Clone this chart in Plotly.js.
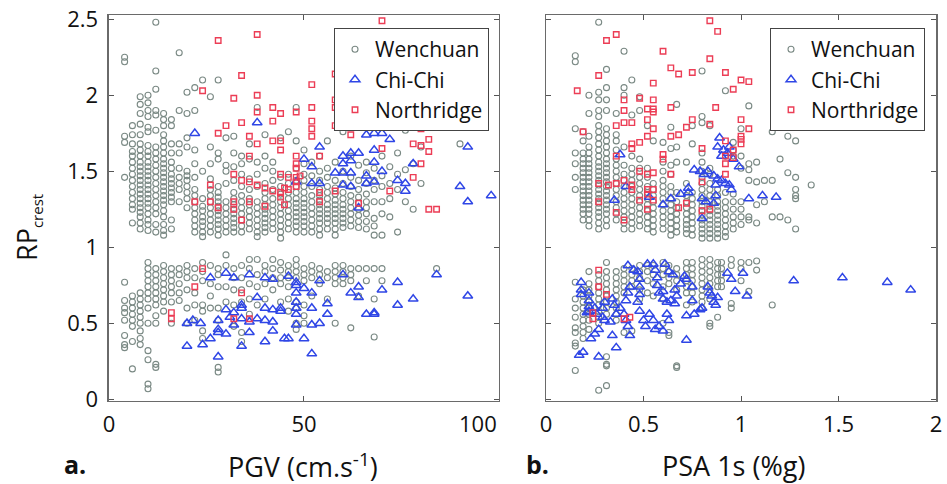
<!DOCTYPE html>
<html>
<head>
<meta charset="utf-8">
<script src="https://cdn.plot.ly/plotly-3.0.1.min.js"></script>
<style>html,body{margin:0;padding:0;background:#fff;}#chart{width:947px;height:484px;}</style>
</head>
<body>
<div id="chart"></div>
<script>
// ---------- Panel a: PGV (cm/s) vs RP_crest ----------
// Wenchuan, upper band: column PGV values and the RP values in each column
const wenchuanPGVUpper = [4, 6, 8, 10, 12, 14, 16, 18, 20, 22, 24, 26, 28, 30, 32, 34, 36, 38, 40, 42, 44, 46, 48, 50, 52, 54, 56, 58, 60, 62, 64, 66, 68, 70, 72, 74, 76, 78, 80, 90];
const wenchuanRPaUpper = [
  [2.25, 2.22, 1.73, 1.69, 1.46],
  [1.8, 1.74, 1.68, 1.63, 1.6, 1.56, 1.52, 1.48, 1.44, 1.4, 1.36, 1.32, 1.28, 1.25, 1.16],
  [1.99, 1.94, 1.88, 1.81, 1.74, 1.68, 1.64, 1.6, 1.56, 1.53, 1.5, 1.47, 1.44, 1.41, 1.38, 1.35, 1.32, 1.29, 1.26, 1.23, 1.2, 1.16, 1.12],
  [2.0, 1.95, 1.9, 1.86, 1.79, 1.76, 1.67, 1.63, 1.6, 1.56, 1.53, 1.5, 1.47, 1.44, 1.41, 1.38, 1.35, 1.32, 1.29, 1.26, 1.22, 1.18, 1.15, 1.11],
  [2.48, 2.16, 2.04, 1.9, 1.87, 1.77, 1.66, 1.62, 1.58, 1.54, 1.5, 1.46, 1.42, 1.38, 1.34, 1.3, 1.26, 1.22, 1.15, 1.1],
  [1.88, 1.84, 1.8, 1.74, 1.7, 1.66, 1.62, 1.58, 1.55, 1.52, 1.49, 1.46, 1.43, 1.4, 1.37, 1.34, 1.31, 1.28, 1.24, 1.2, 1.15, 1.11, 1.08],
  [1.84, 1.8, 1.68, 1.62, 1.56, 1.52, 1.48, 1.45, 1.42, 1.39, 1.36, 1.33, 1.3, 1.18, 1.12],
  [2.28, 1.9, 1.68, 1.62, 1.52, 1.46, 1.42, 1.38, 1.3],
  [2.02, 1.88, 1.72, 1.66, 1.5, 1.47, 1.44, 1.4, 1.36, 1.32, 1.26],
  [2.05, 1.9, 1.64, 1.55, 1.46, 1.38, 1.34, 1.3, 1.26, 1.22, 1.18, 1.14, 1.1],
  [2.1, 1.5, 1.32, 1.27, 1.24, 1.2, 1.17, 1.14, 1.1, 1.07],
  [1.99, 1.66, 1.55, 1.45, 1.38, 1.34, 1.3, 1.26, 1.22, 1.18, 1.14, 1.1],
  [2.1, 1.62, 1.58, 1.4, 1.36, 1.33, 1.3, 1.27, 1.24, 1.21, 1.18, 1.15, 1.12, 1.08],
  [1.72, 1.54, 1.5, 1.42, 1.3, 1.26, 1.22, 1.18, 1.14, 1.1],
  [1.73, 1.62, 1.53, 1.44, 1.36, 1.32, 1.28, 1.25, 1.22, 1.19, 1.16, 1.13, 1.1],
  [1.6, 1.55, 1.48, 1.4, 1.34, 1.3, 1.26, 1.22, 1.18, 1.14, 1.1],
  [1.68, 1.58, 1.45, 1.38, 1.32, 1.28, 1.24, 1.2, 1.16, 1.12],
  [1.92, 1.56, 1.48, 1.4, 1.3, 1.26, 1.22, 1.18, 1.14, 1.1, 1.07],
  [1.74, 1.6, 1.52, 1.42, 1.36, 1.32, 1.28, 1.25, 1.22, 1.19, 1.16, 1.13, 1.1],
  [1.56, 1.5, 1.44, 1.38, 1.32, 1.28, 1.24, 1.2, 1.16, 1.12],
  [1.72, 1.46, 1.4, 1.35, 1.3, 1.26, 1.22, 1.18, 1.14, 1.1, 1.06],
  [1.76, 1.48, 1.42, 1.36, 1.32, 1.28, 1.24, 1.2, 1.16, 1.12],
  [1.92, 1.7, 1.52, 1.44, 1.4, 1.36, 1.32, 1.29, 1.26, 1.23, 1.2, 1.17, 1.14, 1.1],
  [1.64, 1.55, 1.48, 1.44, 1.4, 1.36, 1.32, 1.29, 1.26, 1.23, 1.2, 1.17, 1.14, 1.1],
  [1.56, 1.47, 1.4, 1.34, 1.3, 1.26, 1.22, 1.18, 1.14, 1.1],
  [1.6, 1.5, 1.44, 1.38, 1.34, 1.31, 1.28, 1.25, 1.22, 1.19, 1.16, 1.12, 1.08],
  [1.7, 1.52, 1.46, 1.4, 1.36, 1.32, 1.28, 1.25, 1.22, 1.19, 1.16, 1.12],
  [1.56, 1.44, 1.39, 1.35, 1.31, 1.28, 1.25, 1.22, 1.19, 1.16, 1.12, 1.08],
  [1.76, 1.5, 1.42, 1.36, 1.32, 1.28, 1.25, 1.22, 1.19, 1.16, 1.13],
  [1.6, 1.46, 1.4, 1.34, 1.3, 1.26, 1.22, 1.18, 1.14],
  [1.54, 1.44, 1.38, 1.33, 1.29, 1.25, 1.21, 1.17, 1.13],
  [1.56, 1.49, 1.42, 1.35, 1.3, 1.26, 1.22, 1.17, 1.12],
  [1.52, 1.44, 1.38, 1.3, 1.19, 1.14, 1.08],
  [1.6, 1.47, 1.4, 1.3, 1.22, 1.08],
  [1.53, 1.42, 1.32, 1.2],
  [1.62, 1.48, 1.38, 1.1],
  [1.81, 1.77, 1.51, 1.3],
  [1.55, 1.25],
  [1.66, 1.42],
  [1.68]
];
// Wenchuan, lower band
const wenchuanPGVLower = [4, 6, 8, 10, 12, 14, 16, 18, 20, 22, 24, 26, 28, 30, 32, 34, 36, 38, 40, 42, 44, 46, 48, 50, 52, 54, 56, 58, 60, 62, 64, 66, 68, 70, 84];
const wenchuanRPaLower = [
  [0.77, 0.65, 0.6, 0.57, 0.52, 0.42, 0.36, 0.34],
  [0.68, 0.64, 0.6, 0.56, 0.52, 0.48, 0.38, 0.2],
  [0.7, 0.66, 0.62, 0.58, 0.54, 0.5, 0.45, 0.4, 0.36],
  [0.9, 0.86, 0.82, 0.78, 0.74, 0.7, 0.66, 0.6, 0.5, 0.32, 0.26, 0.1, 0.07],
  [0.86, 0.82, 0.78, 0.74, 0.7, 0.66, 0.62, 0.55, 0.5, 0.23, 0.21],
  [0.88, 0.84, 0.8, 0.76, 0.72, 0.68, 0.64, 0.58],
  [0.86, 0.82, 0.78, 0.74, 0.7, 0.64, 0.5],
  [0.86, 0.82, 0.76, 0.7, 0.65],
  [0.88, 0.84, 0.8, 0.72, 0.6, 0.5],
  [0.86, 0.8, 0.7, 0.62, 0.52],
  [0.9, 0.84, 0.78, 0.62, 0.58, 0.45, 0.4],
  [0.88, 0.76, 0.68, 0.6],
  [0.86, 0.82, 0.74, 0.6, 0.52, 0.21, 0.18],
  [0.95, 0.88, 0.74, 0.64],
  [0.86, 0.8, 0.72, 0.62, 0.48],
  [0.88, 0.8, 0.72, 0.64, 0.44, 0.38],
  [0.92, 0.86, 0.76, 0.66, 0.56],
  [0.92, 0.82, 0.74, 0.62],
  [0.88, 0.84, 0.76, 0.66],
  [0.92, 0.86, 0.8, 0.72],
  [0.9, 0.85, 0.8, 0.76, 0.64],
  [0.88, 0.84, 0.8, 0.74, 0.66, 0.58],
  [0.92, 0.88, 0.84, 0.8, 0.64, 0.6, 0.5, 0.46],
  [0.86, 0.82, 0.78, 0.62, 0.55, 0.5],
  [0.88, 0.84, 0.8, 0.68],
  [0.86, 0.82, 0.76],
  [0.84, 0.8, 0.66],
  [0.88, 0.84, 0.8, 0.76, 0.5],
  [0.88, 0.84, 0.8, 0.76],
  [0.86, 0.82, 0.78, 0.47],
  [0.86, 0.68],
  [0.86, 0.78],
  [0.86, 0.66, 0.41],
  [0.86, 0.78],
  [0.86]
];
// Chi-Chi, [PGV, RP]
const chichiPGVRP = [
  [22,1.75],[38,1.82],[48,1.43],[50,1.58],[52,1.53],[52,1.42],[54,1.66],[54,1.42],[58,1.49],[60,1.6],[60,1.55],[60,1.49],[60,1.41],
  [62,1.62],[62,1.57],[62,1.49],[62,1.4],[64,1.62],[64,1.26],[66,1.74],[66,1.47],[66,1.42],[68,1.75],[68,1.64],[68,1.56],[68,1.43],
  [70,1.75],[70,1.5],[72,1.71],[74,1.44],[76,1.42],[76,1.37],[78,1.55],[92,1.66],[90,1.4],[92,1.3],[98,1.34],
  [20,0.35],[20,0.5],[21.5,0.52],[23.5,0.5],[24,0.36],[26,0.4],[26,0.8],[28,0.28],[28,0.52],[28,0.46],[28,0.44],[30,0.59],[30,0.43],
  [30,0.83],[31,0.54],[32,0.8],[32,0.57],[32,0.49],[34,0.62],[34,0.6],[34,0.53],[34,0.35],[36,0.82],[36,0.51],[36,0.44],[38,0.67],
  [38,0.53],[40,0.8],[40,0.6],[40,0.52],[40,0.38],[42,0.79],[42,0.59],[42,0.51],[42,0.45],[44,0.6],[44,0.58],[45,0.4],[46,0.81],
  [46,0.4],[48,0.77],[48,0.75],[48,0.7],[48,0.64],[48,0.6],[48,0.56],[48,0.49],[50,0.73],[50,0.4],[52,0.7],[52,0.6],[52,0.49],
  [52,0.3],[54,0.78],[54,0.5],[56,0.63],[56,0.56],[60,0.82],[62,0.7],[64,0.74],[64,0.67],[66,0.56],[68,0.56],[68,0.57],[70,0.72],
  [74,0.77],[74,0.62],[78,0.66],[84,0.82],[92,0.68]
];
// Northridge, [PGV, RP]
const northridgePGVRP = [
  [28,2.36],[38,2.4],[70,2.49],[34,2.13],[58,2.14],[24,2.03],[52,2.07],[38,2.0],[32,1.98],[58,1.97],[58,1.92],[52,1.92],[42,1.92],
  [44,1.88],[48,1.89],[38,1.89],[66,1.84],[52,1.83],[42,1.83],[34,1.82],[30,1.8],[58,1.8],[52,1.78],[78,1.8],[80,1.83],[80,1.78],
  [28,1.75],[62,1.74],[52,1.73],[36,1.73],[82,1.71],[42,1.7],[44,1.7],[38,1.68],[78,1.68],[80,1.67],[70,1.65],[44,1.64],[82,1.63],
  [48,1.6],[36,1.6],[54,1.6],[80,1.55],[48,1.55],[48,1.52],[32,1.48],[44,1.48],[48,1.46],[46,1.46],[78,1.46],[49,1.47],[34,1.44],
  [36,1.43],[48,1.43],[26,1.41],[38,1.41],[48,1.4],[40,1.39],[45,1.39],[46,1.38],[42,1.37],[58,1.37],[72,1.37],[54,1.36],[44,1.36],
  [44,1.33],[22,1.3],[26,1.3],[32,1.3],[36,1.3],[54,1.3],[64,1.29],[45,1.28],[28,1.26],[40,1.27],[32,1.25],[82,1.25],[84,1.25],[34,1.18],
  [24,0.86],[22,0.74],[16,0.57],[16,0.53],[34,0.7],[32,0.53],[36,0.53]
];

// ---------- Panel b: PSA 1s (%g) vs RP_crest ----------
const wenchuanPSAUpper = [0.15, 0.19, 0.22, 0.27, 0.31, 0.36, 0.4, 0.44, 0.48, 0.52, 0.55, 0.6, 0.64, 0.67, 0.72, 0.75, 0.8, 0.84, 0.88, 0.92, 0.96, 1.0, 1.04, 1.08, 1.12, 1.16, 1.2, 1.24, 1.28, 1.36];
const wenchuanRPbUpper = [
  [2.26, 2.22, 1.78, 1.62, 1.55, 1.46, 1.38],
  [1.76, 1.7, 1.62, 1.58, 1.55, 1.52, 1.49, 1.46, 1.43, 1.4, 1.37, 1.34, 1.31, 1.28, 1.25, 1.22, 1.18],
  [2.0, 1.88, 1.73, 1.66, 1.62, 1.58, 1.55, 1.52, 1.49, 1.46, 1.43, 1.4, 1.37, 1.34, 1.31, 1.28, 1.25, 1.22, 1.18, 1.14],
  [2.48, 2.02, 1.97, 1.9, 1.86, 1.8, 1.76, 1.72, 1.68, 1.64, 1.6, 1.56, 1.53, 1.5, 1.47, 1.44, 1.41, 1.38, 1.35, 1.32, 1.29, 1.26, 1.23, 1.2, 1.16, 1.12],
  [2.17, 2.05, 1.97, 1.9, 1.78, 1.74, 1.7, 1.66, 1.62, 1.58, 1.55, 1.52, 1.49, 1.46, 1.43, 1.4, 1.37, 1.34, 1.31, 1.28, 1.25, 1.22, 1.18, 1.14],
  [1.88, 1.74, 1.7, 1.64, 1.58, 1.54, 1.5, 1.46, 1.42, 1.38, 1.34, 1.3, 1.26, 1.22, 1.18],
  [2.29, 2.05, 2.0, 1.66, 1.54, 1.48, 1.44, 1.4, 1.36, 1.32, 1.28, 1.24, 1.2, 1.16, 1.12],
  [2.1, 1.87, 1.6, 1.52, 1.48, 1.44, 1.4, 1.36, 1.32, 1.28, 1.24, 1.2, 1.16, 1.12],
  [1.99, 1.9, 1.58, 1.52, 1.46, 1.42, 1.38, 1.34, 1.3, 1.26, 1.22, 1.18, 1.14],
  [1.8, 1.52, 1.46, 1.4, 1.36, 1.32, 1.28, 1.24, 1.2, 1.16, 1.12],
  [1.7, 1.42, 1.38, 1.34, 1.3, 1.26, 1.22, 1.18, 1.14, 1.1],
  [1.69, 1.56, 1.5, 1.44, 1.4, 1.36, 1.32, 1.28, 1.24, 1.2, 1.16, 1.12],
  [1.79, 1.65, 1.54, 1.48, 1.4, 1.36, 1.32, 1.28, 1.24, 1.2, 1.16, 1.12, 1.08],
  [1.94, 1.66, 1.56, 1.36, 1.3, 1.26, 1.22, 1.18, 1.14, 1.1],
  [1.56, 1.42, 1.34, 1.3, 1.26, 1.22, 1.18, 1.15, 1.12, 1.09],
  [1.8, 1.68, 1.36, 1.32, 1.28, 1.24, 1.2, 1.16, 1.12, 1.08],
  [2.16, 1.86, 1.82, 1.62, 1.56, 1.5, 1.46, 1.42, 1.38, 1.34, 1.3, 1.27, 1.24, 1.21, 1.18, 1.15, 1.12, 1.09, 1.06],
  [1.8, 1.52, 1.48, 1.42, 1.38, 1.34, 1.3, 1.27, 1.24, 1.21, 1.18, 1.15, 1.12, 1.09, 1.06],
  [1.38, 1.34, 1.3, 1.27, 1.24, 1.21, 1.18, 1.15, 1.12, 1.09, 1.06],
  [2.03, 1.6, 1.36, 1.3, 1.26, 1.22, 1.18, 1.14, 1.1, 1.07],
  [1.69, 1.64, 1.6, 1.35, 1.3, 1.25, 1.2, 1.16, 1.12],
  [1.78, 1.6, 1.52, 1.3, 1.25, 1.2, 1.15],
  [1.93, 1.55, 1.51, 1.44, 1.2, 1.18],
  [1.56, 1.43, 1.28, 1.16],
  [1.44, 1.3],
  [1.76, 1.44, 1.2],
  [1.58, 1.2],
  [1.73, 1.49, 1.18],
  [1.7, 1.46, 1.38, 1.34, 1.32, 1.12],
  [1.41]
];
const wenchuanPSALower = [0.15, 0.19, 0.22, 0.27, 0.31, 0.36, 0.4, 0.44, 0.48, 0.52, 0.55, 0.6, 0.63, 0.67, 0.72, 0.75, 0.8, 0.84, 0.88, 0.9, 0.95, 1.0, 1.04, 1.08, 1.16];
const wenchuanRPbLower = [
  [0.77, 0.66, 0.6, 0.54, 0.47, 0.44, 0.37, 0.35, 0.19],
  [0.72, 0.68, 0.64, 0.6, 0.56, 0.52, 0.48, 0.44, 0.4],
  [0.84, 0.76, 0.72, 0.68, 0.64, 0.6, 0.56, 0.52, 0.46],
  [0.82, 0.78, 0.74, 0.7, 0.66, 0.62, 0.58, 0.54, 0.5, 0.06],
  [0.9, 0.84, 0.8, 0.76, 0.72, 0.68, 0.64, 0.6, 0.56, 0.28, 0.23, 0.22, 0.09],
  [0.84, 0.8, 0.76, 0.72, 0.68, 0.64, 0.6, 0.56, 0.52],
  [0.86, 0.82, 0.78, 0.74, 0.7, 0.44],
  [0.86, 0.82, 0.78, 0.74, 0.45],
  [0.88, 0.84, 0.8, 0.72, 0.66],
  [0.88, 0.84, 0.78, 0.7],
  [0.88, 0.82, 0.76, 0.68],
  [0.9, 0.86, 0.82, 0.74, 0.66, 0.5],
  [0.88, 0.84, 0.8, 0.76, 0.44, 0.42],
  [0.86, 0.82, 0.78, 0.72, 0.22, 0.21],
  [0.9, 0.86, 0.82, 0.78, 0.74, 0.7, 0.62],
  [0.9, 0.86, 0.82, 0.78, 0.74, 0.7, 0.64],
  [0.92, 0.88, 0.84, 0.8, 0.76, 0.72, 0.68, 0.64, 0.6],
  [0.92, 0.88, 0.84, 0.8, 0.76, 0.72, 0.66, 0.5, 0.48],
  [0.9, 0.86, 0.82, 0.78, 0.74, 0.54],
  [0.9, 0.86, 0.82, 0.78, 0.74],
  [0.92, 0.88, 0.63, 0.6],
  [0.9, 0.86, 0.78],
  [0.9, 0.71],
  [0.91, 0.85],
  [0.62]
];
const chichiPSARP = [
  [0.38,1.61],[0.41,1.4],[0.35,1.31],[0.53,1.33],[0.6,1.28],[0.64,1.32],[0.69,1.35],[0.73,1.39],[0.73,1.36],[0.76,1.51],[0.79,1.5],
  [0.81,1.48],[0.83,1.5],[0.8,1.32],[0.82,1.3],[0.86,1.29],[0.8,1.19],[0.87,1.34],[0.86,1.47],[0.88,1.45],[0.9,1.44],[0.92,1.42],
  [0.94,1.41],[0.87,1.41],[0.89,1.72],[0.88,1.66],[0.91,1.64],[0.93,1.62],[0.9,1.6],[0.94,1.66],[0.96,1.58],[0.99,1.53],[1.04,1.32],
  [1.11,1.34],[1.18,1.33],[0.95,1.38],
  [0.18,0.77],[0.18,0.72],[0.18,0.69],[0.22,0.7],[0.22,0.65],[0.22,0.61],[0.21,0.57],[0.19,0.31],[0.17,0.29],[0.27,0.28],[0.23,0.4],
  [0.25,0.43],[0.27,0.46],[0.22,0.58],[0.26,0.56],[0.29,0.54],[0.3,0.52],[0.25,0.6],[0.29,0.6],[0.3,0.64],[0.34,0.66],[0.35,0.62],
  [0.36,0.56],[0.33,0.51],[0.34,0.42],[0.36,0.34],[0.38,0.6],[0.4,0.56],[0.41,0.65],[0.42,0.7],[0.43,0.74],[0.42,0.88],[0.45,0.85],
  [0.41,0.52],[0.42,0.48],[0.43,0.42],[0.47,0.64],[0.48,0.69],[0.48,0.74],[0.48,0.79],[0.47,0.84],[0.52,0.89],[0.55,0.89],[0.56,0.85],
  [0.57,0.8],[0.48,0.58],[0.5,0.52],[0.51,0.48],[0.53,0.56],[0.55,0.52],[0.56,0.46],[0.58,0.48],[0.57,0.75],[0.58,0.7],[0.6,0.71],
  [0.6,0.66],[0.62,0.64],[0.64,0.65],[0.61,0.89],[0.63,0.84],[0.65,0.82],[0.62,0.56],[0.63,0.52],[0.6,0.45],[0.66,0.72],[0.67,0.68],
  [0.66,0.63],[0.69,0.76],[0.71,0.81],[0.72,0.79],[0.72,0.55],[0.72,0.39],[0.75,0.74],[0.75,0.65],[0.76,0.56],[0.79,0.59],[0.8,0.6],
  [0.83,0.74],[0.84,0.7],[0.85,0.68],[0.86,0.64],[0.88,0.67],[0.87,0.62],[0.93,0.83],[0.95,0.79],[0.97,0.71],[1.01,0.83],[1.03,0.68],
  [1.27,0.78],[1.52,0.8],[1.75,0.77],[1.87,0.72]
];
const northridgePSARP = [
  [0.84,2.49],[0.88,2.42],[0.36,2.4],[0.31,2.36],[0.6,2.29],[0.84,2.24],[0.64,2.18],[0.75,2.15],[0.68,2.14],[0.27,2.13],[0.92,2.15],
  [1.0,2.1],[1.04,2.09],[0.55,2.08],[0.96,2.04],[0.16,2.03],[0.4,1.97],[0.55,1.97],[0.48,1.98],[0.4,1.9],[0.55,1.91],[0.55,1.89],
  [0.52,1.91],[0.64,1.92],[0.87,1.92],[0.52,1.84],[0.75,1.84],[1.0,1.84],[0.36,1.8],[0.4,1.82],[0.44,1.82],[0.19,1.76],[0.55,1.78],
  [0.72,1.79],[0.84,1.81],[1.04,1.78],[0.48,1.69],[0.52,1.73],[0.64,1.73],[0.68,1.74],[1.0,1.73],[1.0,1.71],[0.44,1.68],[0.44,1.65],
  [0.92,1.7],[1.0,1.68],[0.8,1.65],[0.96,1.64],[0.36,1.6],[0.6,1.61],[0.6,1.58],[0.92,1.6],[0.96,1.59],[0.92,1.55],[0.48,1.5],
  [0.52,1.48],[0.55,1.49],[0.64,1.48],[0.92,1.48],[0.27,1.42],[0.36,1.42],[0.4,1.44],[0.44,1.41],[0.44,1.38],[0.8,1.43],[0.52,1.38],
  [0.52,1.35],[0.55,1.38],[0.55,1.31],[0.48,1.31],[0.27,1.3],[0.32,1.41],[0.52,1.25],[0.72,1.29],[0.68,1.26],[0.8,1.24],[0.84,1.25],
  [0.36,1.23],[0.4,1.18],
  [0.27,0.85],[0.27,0.74],[0.31,0.69],[0.24,0.57],[0.24,0.53],[0.4,0.53],[0.43,0.54]
];

// tick labels
const pgvTickVals = [0, 50, 100];
const pgvTickText = ['0', '50', ''];   // "100" drawn as a label aligned to the frame edge, as in the reference
const psaTickVals = [0, 0.5, 1, 1.5, 2];
const rpTickVals = [0, 0.5, 1, 1.5, 2, 2.5];

// ---------- helpers ----------
function expandCols(xs, cols) {
  const X = [], Y = [];
  xs.forEach((x, i) => cols[i].forEach(y => { X.push(x); Y.push(y); }));
  return [X, Y];
}
function splitPairs(p) { return [p.map(d => d[0]), p.map(d => d[1])]; }

const [wAxU, wAyU] = expandCols(wenchuanPGVUpper, wenchuanRPaUpper);
const [wAxL, wAyL] = expandCols(wenchuanPGVLower, wenchuanRPaLower);
const [wBxU, wByU] = expandCols(wenchuanPSAUpper, wenchuanRPbUpper);
const [wBxL, wByL] = expandCols(wenchuanPSALower, wenchuanRPbLower);
const [cAx, cAy] = splitPairs(chichiPGVRP);
const [nAx, nAy] = splitPairs(northridgePGVRP);
const [cBx, cBy] = splitPairs(chichiPSARP);
const [nBx, nBy] = splitPairs(northridgePSARP);

const FONT = 'Open Sans, Lato, sans-serif';
const wenMarker = {symbol: 'circle-open', size: 6, color: '#7a8984', line: {width: 1.1}};
const chiMarker = {symbol: 'triangle-up-open', size: 8.5, color: '#2f46e6', line: {width: 1.5}};
const norMarker = {symbol: 'square-open', size: 5.5, color: '#ec3d55', line: {width: 1.4}};

const traces = [
  {x: wAxU.concat(wAxL), y: wAyU.concat(wAyL), type: 'scatter', mode: 'markers', name: 'Wenchuan', marker: wenMarker, xaxis: 'x', yaxis: 'y', legend: 'legend'},
  {x: cAx, y: cAy, type: 'scatter', mode: 'markers', name: 'Chi-Chi', marker: chiMarker, xaxis: 'x', yaxis: 'y', legend: 'legend'},
  {x: nAx, y: nAy, type: 'scatter', mode: 'markers', name: 'Northridge', marker: norMarker, xaxis: 'x', yaxis: 'y', legend: 'legend'},
  {x: wBxU.concat(wBxL), y: wByU.concat(wByL), type: 'scatter', mode: 'markers', name: 'Wenchuan', marker: wenMarker, xaxis: 'x2', yaxis: 'y2', legend: 'legend2'},
  {x: cBx, y: cBy, type: 'scatter', mode: 'markers', name: 'Chi-Chi', marker: chiMarker, xaxis: 'x2', yaxis: 'y2', legend: 'legend2'},
  {x: nBx, y: nBy, type: 'scatter', mode: 'markers', name: 'Northridge', marker: norMarker, xaxis: 'x2', yaxis: 'y2', legend: 'legend2'}
];

const axisCommon = {
  ticks: 'inside', ticklen: 5, tickwidth: 1, tickcolor: '#555',
  showline: true, linecolor: '#6a6a6a', linewidth: 1.5, mirror: 'ticks',
  showgrid: false, zeroline: false,
  tickfont: {family: FONT, size: 22, color: '#111'}
};
const yDomain = [0.1715, 0.969];
const yRange = [-0.011, 2.528];

const legendCommon = {
  xanchor: 'left', yanchor: 'top', bgcolor: '#ffffff', bordercolor: '#444', borderwidth: 1,
  font: {family: FONT, size: 21, color: '#111'}, tracegroupgap: 0, itemclick: false
};
const tf = (s) => ({family: FONT, size: s, color: '#111'});

const layout = {
  width: 947, height: 484,
  margin: {l: 0, r: 0, t: 0, b: 0},
  paper_bgcolor: '#ffffff', plot_bgcolor: '#ffffff',
  font: {family: FONT, color: '#111'},
  showlegend: true,
  xaxis: Object.assign({}, axisCommon, {domain: [0.1151, 0.5269], range: [0, 100], tickvals: pgvTickVals, ticktext: pgvTickText, anchor: 'y', ticklabelstandoff: 3}),
  yaxis: Object.assign({}, axisCommon, {domain: yDomain, range: yRange, tickvals: rpTickVals, anchor: 'x', ticklabelstandoff: 5}),
  xaxis2: Object.assign({}, axisCommon, {domain: [0.5766, 0.9884], range: [0, 2], tickvals: psaTickVals, anchor: 'y2', ticklabelstandoff: 3}),
  yaxis2: Object.assign({}, axisCommon, {domain: yDomain, range: yRange, tickvals: rpTickVals, anchor: 'x2', showticklabels: false}),
  legend: Object.assign({}, legendCommon, {x: 0.3527, y: 0.942}),
  legend2: Object.assign({}, legendCommon, {x: 0.8131, y: 0.942}),
  annotations: [
    {text: '100', xref: 'x', yref: 'paper', x: 100, y: 1 - 423 / 484, xanchor: 'right', yanchor: 'middle', showarrow: false, font: tf(22)},
    {text: 'RP<sub><span style="font-size:15px">crest</span></sub>', xref: 'paper', yref: 'paper', x: 27 / 947, y: 1 - 228 / 484, xanchor: 'center', yanchor: 'middle', textangle: -90, showarrow: false, font: tf(27)},
    {text: '<b>a.</b>', xref: 'paper', yref: 'paper', x: 75 / 947, y: 1 - 464 / 484, xanchor: 'center', yanchor: 'middle', showarrow: false, font: tf(25)},
    {text: 'PGV (cm.s<sup>-1</sup>)', xref: 'paper', yref: 'paper', x: 303 / 947, y: 1 - 465 / 484, xanchor: 'center', yanchor: 'middle', showarrow: false, font: tf(27)},
    {text: '<b>b.</b>', xref: 'paper', yref: 'paper', x: 537 / 947, y: 1 - 464 / 484, xanchor: 'center', yanchor: 'middle', showarrow: false, font: tf(25)},
    {text: 'PSA 1s (%g)', xref: 'paper', yref: 'paper', x: 733 / 947, y: 1 - 465 / 484, xanchor: 'center', yanchor: 'middle', showarrow: false, font: tf(27)}
  ]
};

Plotly.newPlot('chart', traces, layout, {displayModeBar: false, staticPlot: true});
</script>
</body>
</html>
